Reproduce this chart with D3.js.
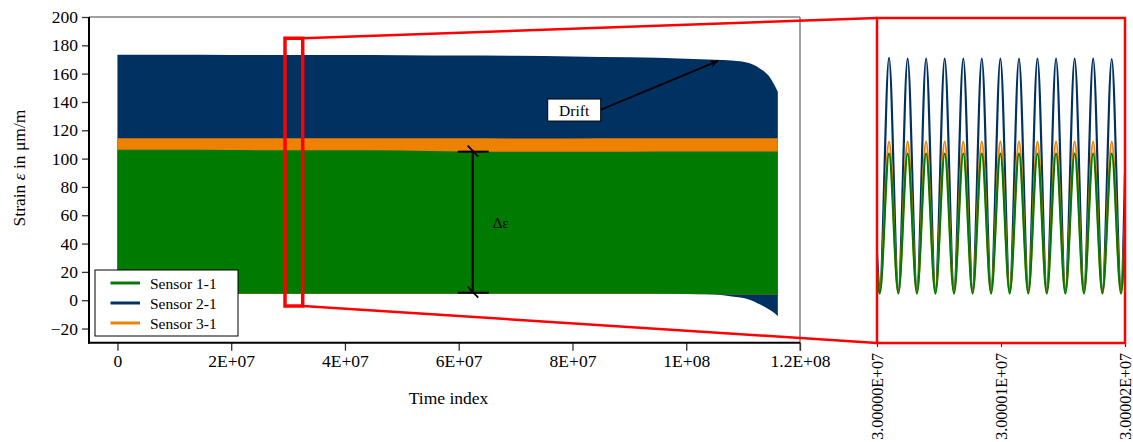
<!DOCTYPE html>
<html><head><meta charset="utf-8">
<script src="https://cdn.jsdelivr.net/npm/d3@7"></script>
<style>
html,body{margin:0;padding:0;background:#fff;}
svg{display:block;}
svg text{font-family:'Liberation Serif','Times New Roman',Times,serif;}
</style></head>
<body><svg id="c" width="1133" height="442"></svg>
<script>
// ---------- data ----------
const seriesNames = ["Sensor 1-1", "Sensor 2-1", "Sensor 3-1"];
const seriesColors = ["#007a00", "#003161", "#ef8100"];

// envelope of the long record (time index)
const mainTime = [0, 1e7, 2e7, 3e7, 4e7, 5e7, 6e7, 7e7, 8e7, 9e7, 1e8, 1.05e8, 1.08e8, 1.11e8, 1.13e8, 1.145e8, 1.155e8, 1.161e8];
const s1Max = [106.2, 106.2, 106.0, 105.9, 105.9, 105.7, 105.0, 104.8, 104.8, 104.9, 105.0, 105.0, 105.0, 105.0, 105.0, 105.0, 105.0, 105.0];
const s1Min = [4.6, 4.6, 4.6, 4.6, 4.6, 4.6, 4.6, 4.6, 4.5, 4.5, 4.4, 4.2, 4.1, 4.0, 4.0, 4.0, 4.0, 4.0];
const s2Max = [173.3, 173.3, 173.2, 173.2, 173.1, 173.0, 172.8, 172.6, 172.1, 171.5, 170.6, 169.8, 169.2, 167.5, 163.5, 158.5, 152.0, 147.3];
const s2Min = [5.0, 5.0, 5.0, 5.0, 5.0, 5.0, 5.0, 5.0, 5.0, 5.0, 4.8, 4.0, 2.6, 0.5, -3.1, -6.3, -9.0, -11.3];
const s3Max = [114.4, 114.4, 114.3, 114.3, 114.4, 114.4, 114.3, 114.2, 114.2, 114.3, 114.3, 114.3, 114.3, 114.3, 114.3, 114.3, 114.3, 114.3];
const s3Min = [4.6, 4.6, 4.6, 4.6, 4.6, 4.6, 4.6, 4.6, 4.5, 4.5, 4.4, 4.2, 4.1, 4.0, 4.0, 4.0, 4.0, 4.0];

// zoomed window: time index = 3E+07 + offset
const zoomStart = 3e7;
const zoomOffset = [0, 2.2, 9.7, 17.2, 24.7, 32.2, 39.6, 47.1, 54.6, 62.1, 69.6, 77.1, 84.5, 92.0, 99.5, 107.0, 114.5, 122.0, 129.4, 136.9, 144.4, 151.9, 159.4, 166.9, 174.3, 181.8, 189.3, 196.8, 200];
const z1 = [20, 5, 104, 5, 104, 5, 104, 5, 104, 5, 104, 5, 104, 5, 104, 5, 104, 5, 104, 5, 104, 5, 104, 5, 104, 5, 104, 5, 53];
const z2 = [34, 7, 171.8, 7, 171.3, 7, 171.3, 7, 171.2, 7, 171.3, 7, 171.2, 7, 171.3, 7, 171.2, 7, 171.3, 7, 171.2, 7, 171.2, 7, 171.2, 7, 171.0, 7, 90];
const z3 = [22, 6, 112.5, 6, 112.5, 6, 112.5, 6, 112.5, 6, 112.5, 6, 112.5, 6, 112.5, 6, 112.5, 6, 112.5, 6, 112.5, 6, 112.5, 6, 112.5, 6, 112.5, 6, 56];

const yTicks = [-20, 0, 20, 40, 60, 80, 100, 120, 140, 160, 180, 200];
const xTicks = [0, 2e7, 4e7, 6e7, 8e7, 1e8, 1.2e8];
const xTickLabels = ["0", "2E+07", "4E+07", "6E+07", "8E+07", "1E+08", "1.2E+08"];
const zoomTicks = [30000000, 30000100, 30000200];
const zoomTickLabels = ["3.00000E+07", "3.00001E+07", "3.00002E+07"];

// annotations (data units)
const zoomBox = {x0: 2.946e7, x1: 3.257e7, y0: -4.1, y1: 185};
const drift = {x: 8.03e7, y: 134.3, tipX: 1.056e8, tipY: 169};
const delta = {x: 6.246e7, y0: 104.9, y1: 5.3, labelY: 54.5};

// ---------- layout ----------
const svg = d3.select("#c");
const M = {l: 89, r: 800, t: 17, b: 342.7};
const x = d3.scaleLinear().domain([-5e6, 1.2e8]).range([M.l, M.r]);
const y = d3.scaleLinear().domain([-30, 200]).range([M.b, M.t]);
const Z = {l: 877, r: 1125, t: 18, b: 343};
const zx = d3.scaleLinear().domain([30000000, 30000200]).range([Z.l, Z.r]);
const zy = d3.scaleLinear().domain([-30, 200]).range([Z.b, Z.t]);

// envelopes
const env = [
  {c: seriesColors[1], mx: s2Max, mn: s2Min},
  {c: seriesColors[2], mx: s3Max, mn: s3Min},
  {c: seriesColors[0], mx: s1Max, mn: s1Min}
];
const area = d3.area().curve(d3.curveMonotoneX);
env.forEach(e => {
  const pts = mainTime.map((t, i) => ({t, hi: e.mx[i], lo: e.mn[i]}));
  svg.append("path")
    .attr("d", area.x(d => x(d.t)).y0(d => y(d.lo)).y1(d => y(d.hi))(pts))
    .attr("fill", e.c);
});

// frame: gray top/right
svg.append("line").attr("x1", M.l).attr("x2", M.r).attr("y1", M.t).attr("y2", M.t).attr("stroke", "#808080").attr("stroke-width", 1.5);
svg.append("line").attr("x1", M.r).attr("x2", M.r).attr("y1", M.t).attr("y2", M.b + 8).attr("stroke", "#808080").attr("stroke-width", 1.5);

// axes
const yAx = svg.append("g").attr("transform", `translate(${M.l},0)`)
  .call(d3.axisLeft(y).tickValues(yTicks).tickSize(7).tickPadding(4).tickFormat(d3.format("d")));
const xAx = svg.append("g").attr("transform", `translate(0,${M.b})`)
  .call(d3.axisBottom(x).tickValues(xTicks).tickSize(8).tickPadding(4).tickFormat((d, i) => xTickLabels[i]));
[yAx, xAx].forEach(g => {
  g.select(".domain").remove();
  g.attr("font-family", null).attr("font-size", null);
  g.selectAll(".tick line").attr("stroke", "#333").attr("stroke-width", 1.3);
  g.selectAll(".tick text").attr("fill", "#000").style("font-size", "17.5px");
});
svg.append("line").attr("x1", M.l).attr("x2", M.l).attr("y1", M.t).attr("y2", M.b + 1).attr("stroke", "#000").attr("stroke-width", 2);
svg.append("line").attr("x1", M.l - 1).attr("x2", M.r).attr("y1", M.b).attr("y2", M.b).attr("stroke", "#000").attr("stroke-width", 2);

// axis titles
svg.append("text").attr("x", (M.l + M.r) / 2 + 4).attr("y", 404).attr("text-anchor", "middle")
  .style("font-size", "17.5px").text("Time index");
const yt = svg.append("text").attr("transform", "translate(25,168) rotate(-90)").attr("text-anchor", "middle")
  .style("font-size", "17.5px");
yt.append("tspan").text("Strain ");
yt.append("tspan").style("font-style", "italic").text("ε");
yt.append("tspan").text(" in μm/m");

// drift annotation
const defs = svg.append("defs");
defs.append("marker").attr("id", "ah").attr("viewBox", "0 0 10 10").attr("refX", 9).attr("refY", 5)
  .attr("markerWidth", 9).attr("markerHeight", 9).attr("markerUnits", "userSpaceOnUse").attr("orient", "auto")
  .append("path").attr("d", "M0,1 L10,5 L0,9 L3,5 Z").attr("fill", "#000");
const dx = x(drift.x), dy = y(drift.y);
svg.append("line").attr("x1", dx + 26).attr("y1", dy).attr("x2", x(drift.tipX)).attr("y2", y(drift.tipY))
  .attr("stroke", "#000").attr("stroke-width", 1.8).attr("marker-end", "url(#ah)");
svg.append("rect").attr("x", dx - 26.5).attr("y", dy - 11).attr("width", 53).attr("height", 22)
  .attr("fill", "#fff").attr("stroke", "#000").attr("stroke-width", 1);
svg.append("text").attr("x", dx).attr("y", dy + 5.5).attr("text-anchor", "middle").style("font-size", "15.5px").text("Drift");

// delta annotation
const ex = x(delta.x);
svg.append("line").attr("x1", ex).attr("x2", ex).attr("y1", y(delta.y0)).attr("y2", y(delta.y1)).attr("stroke", "#000").attr("stroke-width", 2);
[delta.y0, delta.y1].forEach(v => {
  const yy = y(v);
  svg.append("line").attr("x1", ex - 15).attr("x2", ex + 16).attr("y1", yy).attr("y2", yy).attr("stroke", "#000").attr("stroke-width", 2);
  svg.append("line").attr("x1", ex - 5).attr("x2", ex + 5.5).attr("y1", yy - 6).attr("y2", yy + 5).attr("stroke", "#000").attr("stroke-width", 1.8);
});
svg.append("text").attr("x", ex + 20).attr("y", y(delta.labelY) + 5).style("font-size", "15px").text("Δε");

// legend
const lg = svg.append("g");
lg.append("rect").attr("x", 95).attr("y", 270).attr("width", 143).attr("height", 66).attr("fill", "#fff").attr("stroke", "#000").attr("stroke-width", 1);
seriesNames.forEach((n, i) => {
  const yy = 283 + i * 20;
  lg.append("line").attr("x1", 110.5).attr("x2", 140).attr("y1", yy).attr("y2", yy).attr("stroke", seriesColors[i]).attr("stroke-width", 3);
  lg.append("text").attr("x", 150).attr("y", yy + 5.5).style("font-size", "15.5px").text(n);
});

// zoom panel curves
defs.append("clipPath").attr("id", "zc").append("rect").attr("x", Z.l).attr("y", Z.t).attr("width", Z.r - Z.l).attr("height", Z.b - Z.t);
const zl = d3.line().curve(d3.curveMonotoneX).x(d => zx(d[0])).y(d => zy(d[1]));
const zg = svg.append("g").attr("clip-path", "url(#zc)");
[[z2, seriesColors[1]], [z3, seriesColors[2]], [z1, seriesColors[0]]].forEach(([vals, col]) => {
  const pts = zoomOffset.map((o, i) => [zoomStart + o, vals[i]]);
  zg.append("path").attr("d", zl(pts)).attr("fill", "none").attr("stroke", col).attr("stroke-width", 2.2);
});

// zoom axis ticks
const zAx = svg.append("g").attr("transform", `translate(0,${Z.b})`)
  .call(d3.axisBottom(zx).tickValues(zoomTicks).tickSize(4).tickFormat((d, i) => zoomTickLabels[i]));
zAx.select(".domain").remove();
zAx.attr("font-family", null).attr("font-size", null);
zAx.selectAll(".tick line").attr("stroke", "#333").attr("stroke-width", 1.2);
zAx.selectAll(".tick text").attr("fill", "#000").style("font-size", "16px")
  .attr("transform", "rotate(-90)").attr("text-anchor", "end").attr("x", -10).attr("y", 0).attr("dy", "0.35em");

// red zoom box, connectors, big box
const bx0 = x(zoomBox.x0), bx1 = x(zoomBox.x1), by0 = y(zoomBox.y1), by1 = y(zoomBox.y0);
svg.append("line").attr("x1", bx1).attr("y1", by0).attr("x2", Z.l).attr("y2", Z.t).attr("stroke", "#ff0000").attr("stroke-width", 2.5);
svg.append("line").attr("x1", bx1).attr("y1", by1).attr("x2", Z.l).attr("y2", Z.b).attr("stroke", "#ff0000").attr("stroke-width", 2.5);
svg.append("rect").attr("x", bx0).attr("y", by0).attr("width", bx1 - bx0).attr("height", by1 - by0)
  .attr("fill", "none").attr("stroke", "#ff0000").attr("stroke-width", 3.5);
svg.append("rect").attr("x", Z.l).attr("y", Z.t).attr("width", Z.r - Z.l).attr("height", Z.b - Z.t)
  .attr("fill", "none").attr("stroke", "#ff0000").attr("stroke-width", 2.5);
</script></body></html>
